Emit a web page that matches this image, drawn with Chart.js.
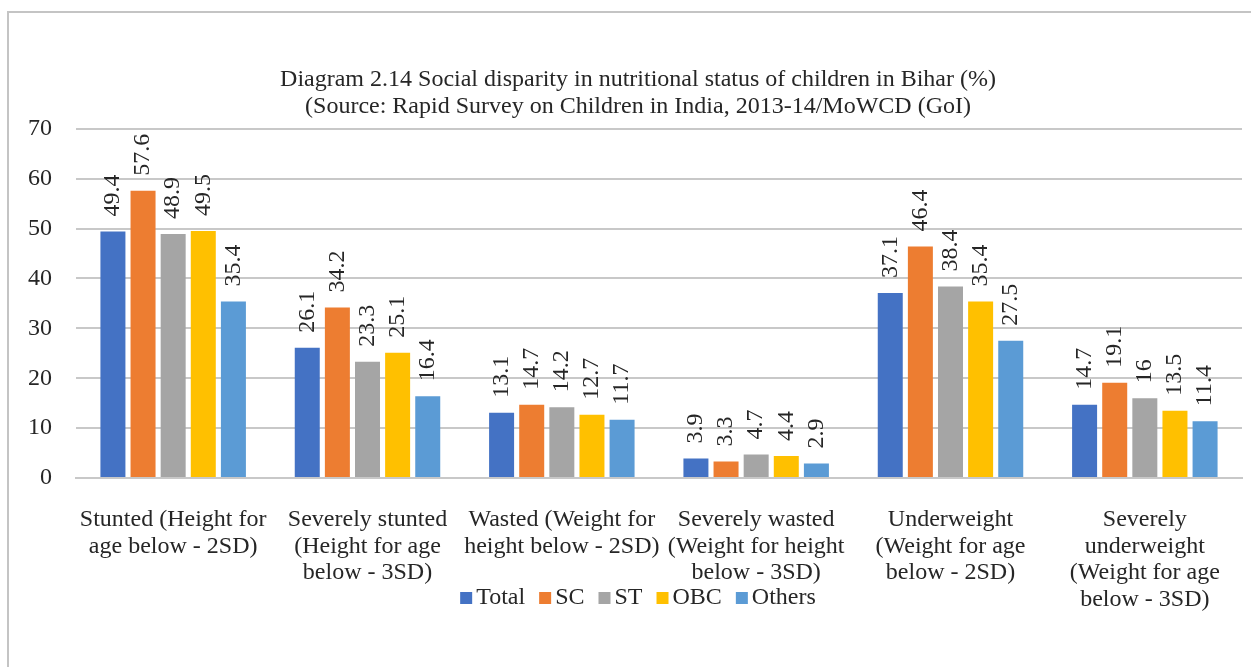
<!DOCTYPE html>
<html>
<head>
<meta charset="utf-8">
<script src="https://cdn.jsdelivr.net/npm/chart.js@4/dist/chart.umd.min.js"></script>
<style>
  html, body { margin: 0; padding: 0; background: #fff; }
  #wrap { position: relative; width: 1251px; height: 667px; overflow: hidden; }
  #frame { position: absolute; left: 7px; top: 11px; right: -10px; bottom: -10px;
           border-top: 2px solid #c4c4c4; border-left: 2px solid #c4c4c4; }
  canvas { position: absolute; left: 0; top: 0; }
</style>
</head>
<body>
<div id="wrap">
  <div id="frame"></div>
  <canvas id="chart" width="1251" height="667"></canvas>
</div>
<script>
// Nutritional indicators (category axis)
const categories = [
  ['Stunted (Height for', 'age below - 2SD)'],
  ['Severely stunted', '(Height for age', 'below - 3SD)'],
  ['Wasted (Weight for', 'height below - 2SD)'],
  ['Severely wasted', '(Weight for height', 'below - 3SD)'],
  ['Underweight', '(Weight for age', 'below - 2SD)'],
  ['Severely', 'underweight', '(Weight for age', 'below - 3SD)']
];

// Percentage of children by social group
const total  = [49.4, 26.1, 13.1, 3.9, 37.1, 14.7];
const sc     = [57.6, 34.2, 14.7, 3.3, 46.4, 19.1];
const st     = [48.9, 23.3, 14.2, 4.7, 38.4, 16];
const obc    = [49.5, 25.1, 12.7, 4.4, 35.4, 13.5];
const others = [35.4, 16.4, 11.7, 2.9, 27.5, 11.4];

const seriesNames = ['Total', 'SC', 'ST', 'OBC', 'Others'];
const seriesColors = ['#4472C4', '#ED7D31', '#A5A5A5', '#FFC000', '#5B9BD5'];
const seriesValues = [total, sc, st, obc, others];

const yTicks = [0, 10, 20, 30, 40, 50, 60, 70];

const titleLines = [
  'Diagram 2.14 Social disparity in nutritional status of children in Bihar (%)',
  '(Source: Rapid Survey on Children in India, 2013-14/MoWCD (GoI)'
];

const FONT = "'Liberation Serif', 'Times New Roman', serif";
const TEXT = '#262626';

// Vertical value labels above each bar
const barValueLabels = {
  id: 'barValueLabels',
  afterDatasetsDraw(chart) {
    const ctx = chart.ctx;
    ctx.save();
    ctx.font = '24px ' + FONT;
    ctx.fillStyle = TEXT;
    ctx.textAlign = 'left';
    ctx.textBaseline = 'middle';
    chart.data.datasets.forEach((ds, di) => {
      const meta = chart.getDatasetMeta(di);
      meta.data.forEach((bar, i) => {
        ctx.save();
        ctx.translate(bar.x, bar.y - 15);
        ctx.rotate(-Math.PI / 2);
        ctx.fillText(String(ds.data[i]), 0, 0);
        ctx.restore();
      });
    });
    ctx.restore();
  }
};

// Centre the title on the same axis as the legend
const titleShift = {
  id: 'titleShift',
  afterLayout(chart) {
    const t = chart.titleBlock;
    if (t) { t.left += 7; t.right += 7; }
  }
};

// Compact series key: small square, tight gap, then the name
const seriesKey = {
  id: 'seriesKey',
  afterDraw(chart) {
    const ctx = chart.ctx;
    const box = 12, boxGap = 4, itemGap = 14, cx = 638, cy = 598;
    ctx.save();
    ctx.font = '24px ' + FONT;
    ctx.textBaseline = 'middle';
    ctx.textAlign = 'left';
    const items = chart.data.datasets.map(ds => ({
      label: ds.label, color: ds.backgroundColor, w: ctx.measureText(ds.label).width
    }));
    const totalW = items.reduce((s, it) => s + box + boxGap + it.w, 0) + itemGap * (items.length - 1);
    let x = cx - totalW / 2;
    items.forEach(it => {
      ctx.fillStyle = it.color;
      ctx.fillRect(x, cy - box / 2, box, box);
      ctx.fillStyle = TEXT;
      ctx.fillText(it.label, x + box + boxGap, cy);
      x += box + boxGap + it.w + itemGap;
    });
    ctx.restore();
  }
};

new Chart(document.getElementById('chart'), {
  type: 'bar',
  data: {
    labels: categories,
    datasets: seriesNames.map((name, k) => ({
      label: name,
      data: seriesValues[k],
      backgroundColor: seriesColors[k],
      borderWidth: 0,
      categoryPercentage: 0.775,
      barPercentage: 0.83
    }))
  },
  options: {
    responsive: false,
    animation: false,
    layout: { padding: { left: 20, right: 9, top: 67, bottom: 0 } },
    plugins: {
      title: {
        display: true,
        text: titleLines,
        color: TEXT,
        font: { family: FONT, size: 24, weight: 'normal', lineHeight: 1.1 },
        padding: { top: 0, bottom: 9 }
      },
      legend: { display: false },
      tooltip: { enabled: false }
    },
    scales: {
      x: {
        grid: { display: false, drawTicks: false },
        border: { color: '#c8c8c8', width: 2 },
        ticks: {
          color: TEXT,
          font: { family: FONT, size: 24, lineHeight: 1.1 },
          maxRotation: 0,
          autoSkip: false,
          padding: 29
        },
        afterFit(scale) { scale.height = 189; }
      },
      y: {
        min: 0,
        max: 70,
        afterBuildTicks(scale) { scale.ticks = yTicks.map(v => ({ value: v })); },
        grid: { color: '#c8c8c8', lineWidth: 2, drawTicks: false },
        border: { display: false },
        ticks: {
          color: TEXT,
          font: { family: FONT, size: 24 },
          padding: 24
        },
        afterFit(scale) { scale.width = 56; }
      }
    }
  },
  plugins: [barValueLabels, titleShift, seriesKey]
});
</script>
</body>
</html>
